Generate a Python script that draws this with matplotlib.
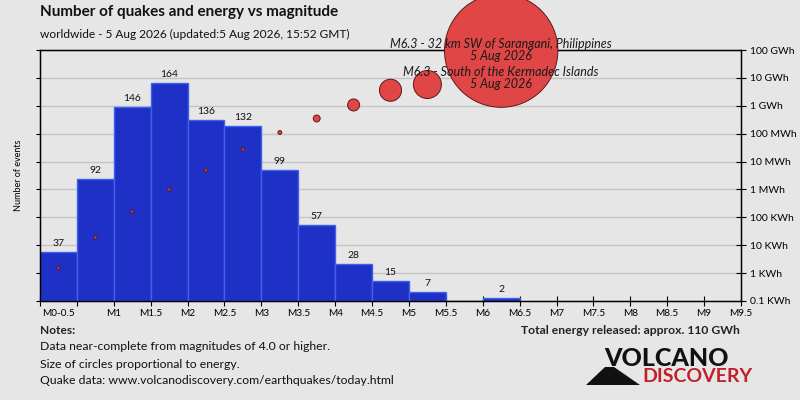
import numpy as np
import matplotlib
matplotlib.use('Agg')
import matplotlib.pyplot as plt
from matplotlib.patches import Polygon

plt.rcParams['font.family'] = ['Lato', 'DejaVu Sans']

# magnitude bins (left edges, width 0.5)
bin_left = [0, 0.5, 1.0, 1.5, 2.0, 2.5, 3.0, 3.5, 4.0, 4.5, 5.0, 5.5, 6.0]
counts = [37, 92, 146, 164, 136, 132, 99, 57, 28, 15, 7, 0, 2]
# energy per bin in kWh (None = no quakes)
energy_kwh = [1.5, 19, 160, 1.0e3, 4.8e3, 2.7e4, 1.1e5, 3.5e5, 1.07e6, 3.6e6, 5.8e6, None, 9.5e7]

energy_ticks = [0.1, 1, 10, 100, 1e3, 1e4, 1e5, 1e6, 1e7, 1e8]
energy_labels = ['0.1 KWh', '1 KWh', '10 KWh', '100 KWh', '1 MWh', '10 MWh',
                 '100 MWh', '1 GWh', '10 GWh', '100 GWh']

big_quakes = ["M6.3 - 32 km SW of Sarangani, Philippines\n5 Aug 2026",
              "M6.3 - South of the Kermadec Islands\n5 Aug 2026"]
big_quake_mag = 6.25
big_quake_label_y = [1e8, 1e7]

bg = '#e6e6e6'
fig = plt.figure(figsize=(8, 4), dpi=100, facecolor=bg)
ax = fig.add_axes([40/800, 1-301/400, 701/800, 251/400])
ax.set_facecolor(bg)

width = 0.5
ymax = 189
ax.bar(bin_left, counts, width=width, align='edge', color='#1f30c6',
       edgecolor='#3f62ee', linewidth=1.0, zorder=2)
for x, c in zip(bin_left, counts):
    if c > 0:
        ax.text(x + width/2, c + 3, str(c), ha='center', va='bottom',
                fontsize=7.5, color='#111111', zorder=3)

ax.set_xlim(0, 9.5)
ax.set_ylim(0, ymax)
edges = np.arange(0, 9.51, 0.5)
ax.set_xticks(edges, ['' if e < 1 else f'M{e:g}' for e in edges])
ax.set_xticks([0.25], ['M0-0.5'], minor=True)
ax.tick_params(axis='x', which='major', direction='inout', length=7,
               labelsize=7.2, pad=2, width=0.8)
ax.tick_params(axis='x', which='minor', length=0, labelsize=7.2, pad=5.5)
ax.set_yticks(np.linspace(0, ymax, 10))
ax.set_yticklabels([])
ax.tick_params(axis='y', direction='out', length=3, width=0.8)
ax.grid(axis='y', color='#c4c4c4', linewidth=1.0, zorder=0)
ax.set_axisbelow(True)
ax.set_ylabel('Number of events', fontsize=6.5, labelpad=6)
for s in ax.spines.values():
    s.set_linewidth(1.0)

ax2 = ax.twinx()
ax2.set_yscale('log')
ax2.set_ylim(0.1, 1e8)
ax2.set_yticks(energy_ticks, energy_labels)
ax2.yaxis.set_minor_locator(matplotlib.ticker.NullLocator())
ax2.tick_params(axis='y', direction='inout', length=7, labelsize=7.5, pad=3, width=0.8)

xs, es = [], []
for x, e in zip(bin_left, energy_kwh):
    if e is not None:
        xs.append(x + width/2)
        es.append(e)
es = np.array(es)
sizes = np.maximum(6662 * es / 9.5e7, 5)
ax2.scatter(xs, es, s=sizes, color='#e04646', edgecolor='#5a1a1a',
            linewidth=0.7, zorder=5, clip_on=False)

for txt, yy in zip(big_quakes, big_quake_label_y):
    ax2.text(big_quake_mag, yy, txt, ha='center', va='center', style='italic',
             fontsize=9, color='#1a1a1a', linespacing=0.95, zorder=6)

fig.text(40/800, 1-12/400, 'Number of quakes and energy vs magnitude',
         fontsize=11, fontweight='bold', va='center', color='#111111')
fig.text(40/800, 1-34/400, 'worldwide - 5 Aug 2026 (updated:5 Aug 2026, 15:52 GMT)',
         fontsize=8.6, va='center', color='#111111')

fig.text(40/800, 1-330/400, 'Notes:', fontsize=8.6, fontweight='bold', va='center',
         color='#222222')
notes = ['Data near-complete from magnitudes of 4.0 or higher.',
         'Size of circles proportional to energy.',
         'Quake data: www.volcanodiscovery.com/earthquakes/today.html']
for i, n in enumerate(notes):
    fig.text(40/800, 1-(347 + 17*i)/400, n, fontsize=8.8, va='center', color='#111111')

fig.text(740/800, 1-331/400, 'Total energy released: approx. 110 GWh',
         fontsize=8.7, fontweight='bold', ha='right', va='center', color='#222222')

# logo
fig.text(666/800, 1-359/400, 'VOLCANO', fontsize=18, fontweight='black',
         ha='center', va='center', color='#111111')
fig.text(697/800, 1-377/400, 'DISCOVERY', fontsize=14, fontweight='bold',
         ha='center', va='center', color='#c21f2b')
mountain = np.array([[586, 385], [640, 385], [614, 367], [605, 367]], dtype=float)
mountain[:, 0] /= 800
mountain[:, 1] = 1 - mountain[:, 1] / 400
fig.patches.append(Polygon(mountain, closed=True, transform=fig.transFigure,
                           facecolor='#111111', edgecolor='none'))

fig.savefig('out.png', dpi=100, facecolor=bg)
